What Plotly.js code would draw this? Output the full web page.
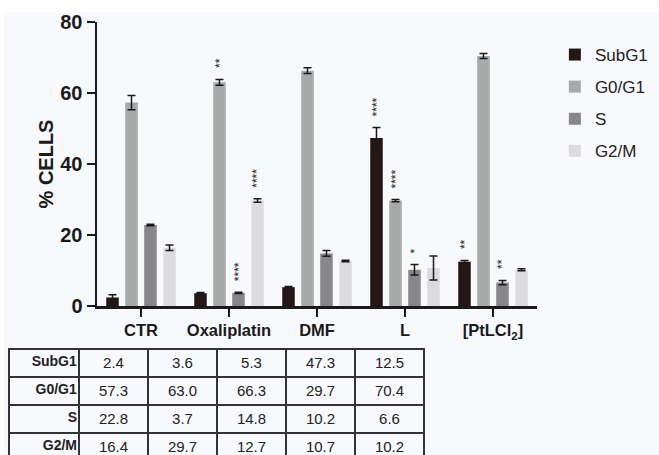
<!DOCTYPE html>
<html>
<head>
<meta charset="utf-8">
<script src="https://cdn.plot.ly/plotly-3.0.1.min.js"></script>
<style>html,body{margin:0;padding:0;background:#fff;overflow:hidden;}#chart{width:659px;height:470px;}</style>
</head>
<body>
<div id="chart"></div>
<script>
// ---- data ----
var categories = ["CTR", "Oxaliplatin", "DMF", "L", "[PtLCl<sub>2</sub>]"];
var seriesNames = ["SubG1", "G0/G1", "S", "G2/M"];
var subG1 = [2.4, 3.6, 5.3, 47.3, 12.5];
var g0g1  = [57.3, 63.0, 66.3, 29.7, 70.4];
var sPhase = [22.8, 3.7, 14.8, 10.2, 6.6];
var g2m   = [16.4, 29.7, 12.7, 10.7, 10.2];
var errSubG1 = [0.8, 0.2, 0.2, 3.0, 0.3];
var errG0G1  = [2.0, 0.8, 0.8, 0.3, 0.7];
var errS     = [0.2, 0.2, 0.8, 1.5, 0.6];
var errG2M   = [0.8, 0.5, 0.2, 3.4, 0.3];
var starsSubG1 = ["", "", "", "****", "**"];
var starsG0G1  = ["", "**", "", "****", ""];
var starsS     = ["", "****", "", "*", "**"];
var starsG2M   = ["", "****", "", "", ""];
var tableRows = ["SubG1", "G0/G1", "S", "G2/M"];
var tableCols = ["2.4|57.3|22.8|16.4", "3.6|63.0|3.7|29.7", "5.3|66.3|14.8|12.7", "47.3|29.7|10.2|10.7", "12.5|70.4|6.6|10.2"];

// ---- styles ----
var H = 470; // figure is taller than the 455px window; the bottom is cut like the reference
var colors = ["#231815", "#a6abaa", "#87878b", "#dcdcde"];
var values = [subG1, g0g1, sPhase, g2m];
var errs = [errSubG1, errG0G1, errS, errG2M];
var stars = [starsSubG1, starsG0G1, starsS, starsG2M];
var bg = "#f8f9fc";
var FONT = "Liberation Sans, Arial, sans-serif";

var traces = [];
for (var i = 0; i < 4; i++) {
  traces.push({
    type: "bar", name: seriesNames[i], x: categories, y: values[i],
    marker: {color: colors[i], line: {width: 0}},
    error_y: {type: "data", array: errs[i], visible: true, color: "#1a1a1a", thickness: 1.5, width: 4},
    legendgroup: "g" + i,
    hoverinfo: "y"
  });
}

// table: first row as header
var headerVals = [["<b>" + tableRows[0] + "</b>"]];
var cellVals = [tableRows.slice(1).map(function(r){return "<b>" + r + "</b>";})];
tableCols.forEach(function(c){
  var v = c.split("|");
  headerVals.push([v[0]]);
  cellVals.push(v.slice(1));
});
var aligns = ["right","center","center","center","center","center"];
traces.push({
  type: "table",
  domain: {x: [9/659, 424/659], y: [1 - 461/H, 1 - 349/H]},
  columnwidth: [70, 69, 69, 69, 69, 69],
  header: {values: headerVals, height: 28, align: aligns,
    fill: {color: bg}, line: {color: "#333", width: 1.5}, font: {family: FONT, size: 10, color: "#222"}},
  cells: {values: cellVals, height: 28, align: aligns,
    fill: {color: bg}, line: {color: "#333", width: 1.5}, font: {family: FONT, size: 10, color: "#222"}}
});

// significance annotations
var annotations = [];
for (var s = 0; s < 4; s++) {
  for (var k = 0; k < categories.length; k++) {
    if (stars[s][k]) {
      annotations.push({
        x: categories[k], y: values[s][k] + errs[s][k], xref: "x", yref: "y",
        text: stars[s][k], showarrow: false, textangle: -90,
        xanchor: "center", yanchor: "bottom", yshift: 9, xshift: (s - 1.5) * 19,
        font: {family: FONT, size: 12, color: "#222"}
      });
    }
  }
}

var layout = {
  width: 659, height: H,
  margin: {l: 0, r: 0, t: 0, b: 0},
  paper_bgcolor: "#ffffff", plot_bgcolor: bg,
  font: {family: FONT, color: "#1a1a1a"},
  barmode: "group", bargap: 0.136, bargroupgap: 0.34,
  showlegend: true,
  legend: {x: 0.842, y: 1 - 37/H, xanchor: "left", yanchor: "top", bgcolor: "rgba(0,0,0,0)",
    font: {family: FONT, size: 17, color: "#222"}, traceorder: "grouped", tracegroupgap: 7},
  xaxis: {domain: [97/659, 537/659], range: [-0.5, 4.5], type: "category",
    showline: true, linecolor: "#1a1a1a", linewidth: 2.5, ticks: "outside", ticklen: 8, tickwidth: 2.5, tickcolor: "#1a1a1a",
    tickfont: {family: FONT, size: 16.5, weight: "bold", color: "#1a1a1a"}, showgrid: false, zeroline: false, fixedrange: true},
  yaxis: {domain: [1 - 306/H, 1 - 22/H], range: [0, 80], tickvals: [0, 20, 40, 60, 80],
    showline: true, linecolor: "#1a1a1a", linewidth: 2.5, ticks: "outside", ticklen: 8, tickwidth: 2.5, tickcolor: "#1a1a1a",
    tickfont: {family: FONT, size: 20, weight: "bold", color: "#1a1a1a"}, showgrid: false, zeroline: false,
    title: {text: "% CELLS", font: {family: FONT, size: 20, weight: "bold", color: "#1a1a1a"}, standoff: 2}},
  shapes: [{type: "rect", xref: "paper", yref: "paper", x0: 3/659, x1: 1, y0: 0, y1: 1 - 12/H,
    fillcolor: bg, line: {width: 0}, layer: "below"}],
  annotations: annotations
};

Plotly.newPlot("chart", traces, layout, {displayModeBar: false, staticPlot: true}).then(function(gd){
  // enlarge table text after Plotly has sized the rows; keep the label column right-aligned
  function fix(){
    gd.querySelectorAll(".table .y-column").forEach(function(col){
      var isLabelCol = col.textContent.indexOf("SubG1") >= 0 || col.textContent.indexOf("G0/G1") >= 0;
      col.querySelectorAll(".cell-text").forEach(function(t){
        if (!isLabelCol) { t.style.fontSize = "15px"; return; }
        if (t.getAttribute("data-fixed") === "1" && t.style.fontSize) return;
        var w0 = t.getBBox().width;
        t.style.fontSize = "14px";
        var w1 = t.getBBox().width;
        var x0 = parseFloat(t.getAttribute("x")) || 0;
        t.setAttribute("x", x0 - ((w1 - w0) - 6));
        t.setAttribute("data-fixed", "1");
      });
    });
  }
  fix();
  requestAnimationFrame(function(){ fix(); setTimeout(fix, 30); setTimeout(fix, 200); });
});
</script>
</body>
</html>
